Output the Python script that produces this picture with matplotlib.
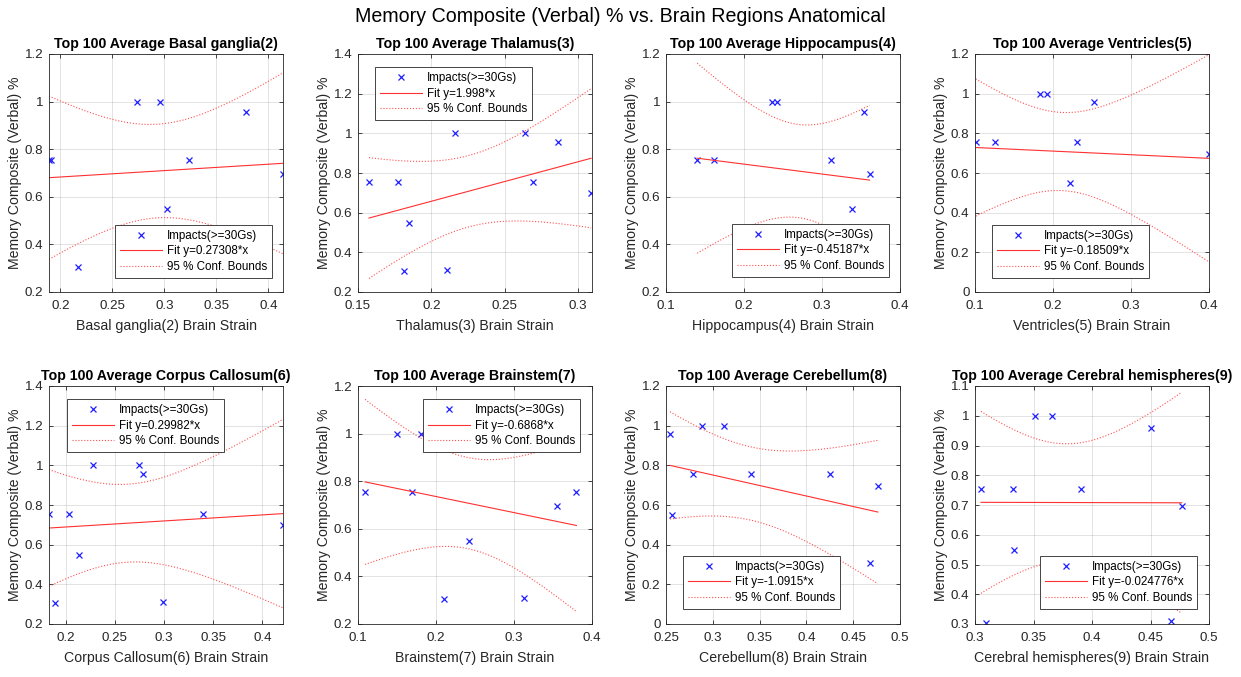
import numpy as np
import matplotlib.pyplot as plt
from matplotlib.ticker import FuncFormatter

plt.rcParams['font.family'] = ['Liberation Sans', 'DejaVu Sans']

# memory composite score per subject (same subjects in every panel)
memory = np.array([0.755, 0.755, 0.755, 0.305, 0.31, 0.548, 1.0, 1.0, 0.958, 0.697])

# top 100 average strain per region, same subject order as memory
strain_basal = [0.189, 0.191, 0.324, 0.217, 0.348, 0.302, 0.274, 0.296, 0.378, 0.414]
strain_thal = [0.1575, 0.1775, 0.269, 0.1813, 0.2104, 0.185, 0.2158, 0.2635, 0.2862, 0.3089]
strain_hippo = [0.140, 0.162, 0.312, 0.255, 0.295, 0.338, 0.236, 0.242, 0.354, 0.361]
strain_vent = [0.101, 0.125, 0.231, 0.195, 0.215, 0.222, 0.183, 0.192, 0.252, 0.400]
strain_cc = [0.183, 0.2034, 0.3395, 0.1891, 0.299, 0.2136, 0.2282, 0.2748, 0.2782, 0.4211]
strain_bs = [0.109, 0.169, 0.380, 0.21, 0.3128, 0.2427, 0.1503, 0.181, 0.295, 0.3548]
strain_cb = [0.2788, 0.3406, 0.4252, 0.306, 0.468, 0.256, 0.2881, 0.3122, 0.2543, 0.4763]
strain_ch = [0.3051, 0.3323, 0.3909, 0.3094, 0.4677, 0.3334, 0.3511, 0.3654, 0.4506, 0.4766]

regions = ["Basal ganglia(2)", "Thalamus(3)", "Hippocampus(4)", "Ventricles(5)",
           "Corpus Callosum(6)", "Brainstem(7)", "Cerebellum(8)", "Cerebral hemispheres(9)"]
strains = [strain_basal, strain_thal, strain_hippo, strain_vent,
           strain_cc, strain_bs, strain_cb, strain_ch]
fit_text = ["0.27308", "1.998", "-0.45187", "-0.18509",
            "0.29982", "-0.6868", "-1.0915", "-0.024776"]

xlims = [None, (0.15, 0.3095), (0.1, 0.4), (0.1, 0.4),
         None, (0.1, 0.4), (0.25, 0.5), (0.3, 0.5)]
ylims = [(0.2, 1.2), (0.2, 1.4), (0.2, 1.2), (0, 1.2),
         (0.2, 1.4), (0.2, 1.2), (0, 1.2), (0.3, 1.1)]
xticks = [np.arange(0.2, 0.41, 0.05), np.arange(0.15, 0.31, 0.05),
          np.arange(0.1, 0.41, 0.1), np.arange(0.1, 0.41, 0.1),
          np.arange(0.2, 0.41, 0.05), np.arange(0.1, 0.41, 0.1),
          np.arange(0.25, 0.51, 0.05), np.arange(0.3, 0.51, 0.05)]
ysteps = [0.2, 0.2, 0.2, 0.2, 0.2, 0.2, 0.2, 0.1]

# legend anchor (axes fraction) and loc
leg_pos = [((0.282, 0.059), 'lower left'), ((0.073, 0.945), 'upper left'),
           ((0.282, 0.063), 'lower left'), ((0.073, 0.059), 'lower left'),
           ((0.077, 0.945), 'upper left'), ((0.278, 0.945), 'upper left'),
           ((0.073, 0.063), 'lower left'), ((0.278, 0.063), 'lower left')]

t_crit = 2.306  # t(0.975, df=8)

W, H = 1241, 677
fig = plt.figure(figsize=(W / 100, H / 100), dpi=100)
fig.suptitle("Memory Composite (Verbal) % vs. Brain Regions Anatomical",
             fontsize=14.1, y=0.99, color='black')

lefts = [49, 358, 666, 975]
bottoms = [292, 624]
fmt = FuncFormatter(lambda v, p: "%g" % round(v, 4))

for i in range(8):
    row, col = divmod(i, 4)
    ax = fig.add_axes([lefts[col] / W, (H - bottoms[row]) / H, 234 / W, 238 / H])
    x = np.array(strains[i])
    y = memory

    p = np.polyfit(x, y, 1)
    xs = np.linspace(x.min(), x.max(), 100)
    yfit = np.polyval(p, xs)
    n = len(x)
    s = np.sqrt(np.sum((y - np.polyval(p, x)) ** 2) / (n - 2))
    sxx = np.sum((x - x.mean()) ** 2)
    half = t_crit * s * np.sqrt(1 / n + (xs - x.mean()) ** 2 / sxx)

    ax.plot(x, y, 'x', color='#2020ff', ms=5, mew=0.9, label="Impacts(>=30Gs)")
    ax.plot(xs, yfit, '-', color='#ff3030', lw=0.8, label="Fit y=" + fit_text[i] + "*x")
    ax.plot(xs, yfit + half, ':', color='#ff5050', lw=0.8, label="95 % Conf. Bounds")
    ax.plot(xs, yfit - half, ':', color='#ff5050', lw=0.8)

    if xlims[i] is None:
        ax.set_xlim(x.min(), x.max())
    else:
        ax.set_xlim(*xlims[i])
    ax.set_ylim(*ylims[i])
    ax.set_xticks(xticks[i])
    ax.set_yticks(np.arange(ylims[i][0], ylims[i][1] + 1e-6, ysteps[i]))
    ax.xaxis.set_major_formatter(fmt)
    ax.yaxis.set_major_formatter(fmt)

    ax.grid(True, color='#262626', alpha=0.15, lw=0.6)
    ax.tick_params(direction='in', top=True, right=True, length=3, width=0.6,
                   colors='#262626', labelsize=9.6)
    ax.tick_params(axis='x', pad=5.5)
    ax.tick_params(axis='y', pad=4)
    for sp in ax.spines.values():
        sp.set_color('#262626')
        sp.set_linewidth(0.6)

    ax.set_title("Top 100 Average " + regions[i], fontsize=10.2, fontweight='bold', pad=4)
    ax.set_xlabel(regions[i] + " Brain Strain", fontsize=10.2, color='#262626', labelpad=5)
    ax.set_ylabel("Memory Composite (Verbal) %", fontsize=10.2, color='#262626', labelpad=2)

    anchor, loc = leg_pos[i]
    leg = ax.legend(loc=loc, bbox_to_anchor=anchor, borderaxespad=0, fontsize=8.4,
                    fancybox=False, framealpha=1, edgecolor='#262626',
                    handlelength=3.6, handletextpad=0.4, borderpad=0.45,
                    labelspacing=0.28)
    leg.get_frame().set_linewidth(0.6)

fig.savefig("out.png", dpi=100)
